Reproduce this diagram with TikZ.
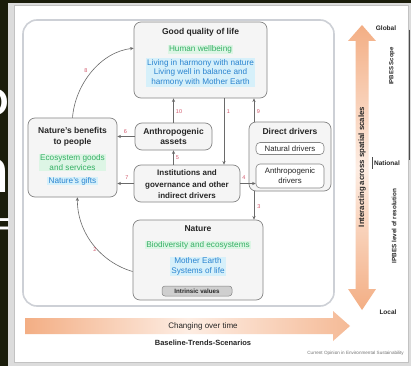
\documentclass[tikz,border=0pt]{standalone}
\usepackage{fontspec}
\setmainfont{Liberation Sans}
\usetikzlibrary{arrows.meta}

\definecolor{slide}{HTML}{1B1D0B}
\definecolor{mat}{HTML}{DCDCDC}
\definecolor{frameline}{HTML}{C2C2C2}
\definecolor{bigline}{HTML}{CDD0D6}
\definecolor{boxline}{HTML}{858585}
\definecolor{boxfill}{HTML}{F5F5F5}
\definecolor{grn}{HTML}{35B064}
\definecolor{grnbg}{HTML}{DDF5E5}
\definecolor{blu}{HTML}{2A84D0}
\definecolor{blubg}{HTML}{D6F0FA}
\definecolor{numred}{HTML}{D2566A}
\definecolor{peach}{HTML}{F3AE84}
\definecolor{peachlt}{HTML}{FDEDE3}
\definecolor{linkgray}{HTML}{6A6A6A}
\definecolor{valuesbg}{HTML}{CFCFCF}

\begin{document}
\begin{tikzpicture}[x=1pt,y=-1pt,
  box/.style={draw=boxline,fill=boxfill,rounded corners=7pt,line width=0.7pt,inner sep=0pt},
  subbox/.style={draw=boxline,fill=white,rounded corners=4pt,line width=0.6pt,inner sep=0pt},
  ttl/.style={font=\fontsize{8.5}{10.8}\selectfont\bfseries,text=black!85,align=center,inner sep=0pt},
  txt/.style={font=\fontsize{7.8}{10}\selectfont,text=black!85,align=center,inner sep=0pt},
  grntxt/.style={font=\fontsize{8.2}{10.5}\selectfont,text=grn,fill=grnbg,align=center,inner xsep=1.5pt,inner ysep=0.6pt},
  blutxt/.style={font=\fontsize{8.2}{9.6}\selectfont,text=blu,fill=blubg,align=center,inner xsep=1.5pt,inner ysep=0.6pt},
  num/.style={font=\fontsize{5.5}{6}\selectfont,text=numred,inner sep=0.5pt},
  link/.style={draw=linkgray,line width=0.6pt,-{Stealth[length=3.6pt,width=3.2pt]}},
  side/.style={font=\fontsize{6.5}{7}\selectfont\bfseries,text=black!85,inner sep=0pt},
  slidetxt/.style={text=white,inner sep=0pt},
]
\useasboundingbox (0,0) rectangle (411,366);

% slide background, dark margin and white figure panel
\fill[mat] (0,0) rectangle (411,366);
\fill[slide] (0,0) rectangle (8,366);
\fill[slide] (0,0) rectangle (411,3);
\begin{scope}
  \clip (0,0) rectangle (8,366);
  \node[slidetxt,anchor=base east,font=\fontsize{38}{38}\selectfont\bfseries] (slideO) at (9,116) {O};
  \node[slidetxt,anchor=base east,font=\fontsize{62}{62}\selectfont\bfseries] (slideN) at (10,192) {n};
  \node[slidetxt,anchor=base east,font=\fontsize{26}{26}\selectfont\bfseries] (slideF) at (10,236) {F};
\end{scope}
\draw[frameline,fill=white,line width=0.8pt] (14.5,5.5) rectangle (408.5,362);

% framework panel
\draw[bigline,line width=1.6pt,rounded corners=14pt] (23,20) rectangle (334,306);

% boxes
\node[box,minimum width=133pt,minimum height=76pt] (quality) at (200.5,60) {};
\node[box,minimum width=77pt,minimum height=27pt] (assets) at (173.5,136.5) {};
\node[box,minimum width=89pt,minimum height=79pt] (benefits) at (72.5,157.5) {};
\node[box,minimum width=106pt,minimum height=37pt] (institutions) at (187,183.5) {};
\node[box,minimum width=82pt,minimum height=69pt] (direct) at (290,156.5) {};
\node[subbox,minimum width=68pt,minimum height=12pt] (natdrv) at (290,148.5) {};
\node[subbox,minimum width=68pt,minimum height=24pt] (anthdrv) at (290,176) {};
\node[box,minimum width=130pt,minimum height=80pt] (nature) at (198,260) {};

% box texts
\node[ttl] (qualityT) at (200.5,32) {Good quality of life};
\node[grntxt] (qualityG) at (200.5,49.5) {Human wellbeing};
\node[blutxt] (qualityB) at (200.5,72.5) {Living in harmony with nature\\Living well in balance and\\harmony with Mother Earth};

\node[ttl] (assetsT) at (173.5,136.5) {Anthropogenic\\assets};

\node[ttl] (benefitsT) at (72.5,136.5) {Nature's benefits\\to people};
\node[grntxt] (benefitsG) at (72.5,162.5) {Ecosystem goods\\and services};
\node[blutxt] (benefitsB) at (72.5,181) {Nature's gifts};

\node[ttl,font=\fontsize{8}{11.5}\selectfont\bfseries] (institutionsT) at (187,184.5) {Institutions and\\governance and other\\indirect drivers};

\node[ttl] (directT) at (290,131.5) {Direct drivers};
\node[txt] (natdrvT) at (290,148.5) {Natural drivers};
\node[txt] (anthdrvT) at (290,176) {Anthropogenic\\drivers};

\node[ttl] (natureT) at (198,229) {Nature};
\node[grntxt] (natureG) at (198,245) {Biodiversity and ecosystems};
\node[blutxt] (natureB) at (198,266.5) {Mother Earth\\Systems of life};
\node[draw=boxline,fill=valuesbg,rounded corners=3pt,line width=0.5pt,
      minimum width=70pt,minimum height=10pt,inner sep=0pt,
      font=\fontsize{6.2}{7}\selectfont\bfseries,text=black!85] (values) at (197,291) {Intrinsic values};

% columns used by the vertical links
\coordinate (col1) at (224,0);
\coordinate (col9) at (254,0);

% links between the elements
\draw[link] (assets.north) -- (assets.north |- quality.south);
\draw[link] (quality.south -| col1) -- (institutions.north -| col1);
\draw[link] (direct.north -| col9) -- (quality.south -| col9);
\draw[link] (institutions.north -| assets.south) -- (assets.south);
\draw[link] (assets.west) -- (assets.west -| benefits.east);
\draw[link] (institutions.west) -- (institutions.west -| benefits.east);
\draw[link] (institutions.east) -- (institutions.east -| anthdrv.west);
\draw[link] (direct.south -| col9) -- (nature.north -| col9);
\draw[link] (benefits.north) .. controls (75,85) and (100,52) .. (quality.170);
\draw[link] (nature.190) .. controls (100,262) and (77,232) .. (benefits.-83);

% link numbers
\node[num] (n10) at (179,112) {10};
\node[num] (n1) at (228.5,112) {1};
\node[num] (n9) at (258.5,112) {9};
\node[num] (n5) at (177.5,157.5) {5};
\node[num] (n6) at (125.5,131.5) {6};
\node[num] (n7) at (127,177.5) {7};
\node[num] (n4) at (244,178) {4};
\node[num] (n3) at (259,207) {3};
\node[num] (n8) at (86,71) {8};
\node[num] (n2) at (95,250) {2};

% spatial scales arrow
\path[top color=peach,bottom color=peach,middle color=peachlt]
  (362,25) -- (376,41) -- (368.5,41) -- (368.5,289) -- (376,289) -- (362,310)
  -- (348,289) -- (355.5,289) -- (355.5,41) -- (348,41) -- cycle;
\node[font=\fontsize{7.8}{9}\selectfont\bfseries,text=black!85,rotate=90,inner sep=0pt] (scalesT) at (362,167) {Interacting across spatial scales};

% scope and resolution marks
\node[side] (globalT) at (386,28) {Global};
\node[side] (nationalT) at (387,163) {National};
\node[side] (localT) at (388,312) {Local};
\draw[black!70,line width=0.5pt] (globalT.south east) ++(13,-1) coordinate (scopeTop) -- (scopeTop |- nationalT.north) coordinate (scopeBot);
\draw[black!70,line width=0.5pt] (nationalT.west) ++(-1.5,-6) coordinate (resTop) -- ++(0,12) coordinate (resBot);
\node[side,font=\fontsize{6}{7}\selectfont\bfseries,rotate=90] (scopeT) at (392,66) {IPBES Scope};
\node[side,font=\fontsize{6.3}{7}\selectfont\bfseries,rotate=90] (resT) at (394,226) {IPBES level of resolution};

% time arrow
\path[left color=peach,right color=peach!85,middle color=peachlt]
  (25,318) -- (333,318) -- (333,311) -- (350,326) -- (333,341) -- (333,334) -- (25,334) -- cycle;
\node[txt,font=\fontsize{8}{9}\selectfont] (timeT) at (203,326) {Changing over time};
\node[ttl,font=\fontsize{7.5}{9}\selectfont\bfseries] (baselineT) at (203,343) {Baseline-Trends-Scenarios};

% source line
\node[font=\fontsize{4.6}{5}\selectfont,text=black!55,anchor=east,inner sep=0pt] (sourceT) at (404,353) {Current Opinion in Environmental Sustainability};
\end{tikzpicture}
\end{document}
